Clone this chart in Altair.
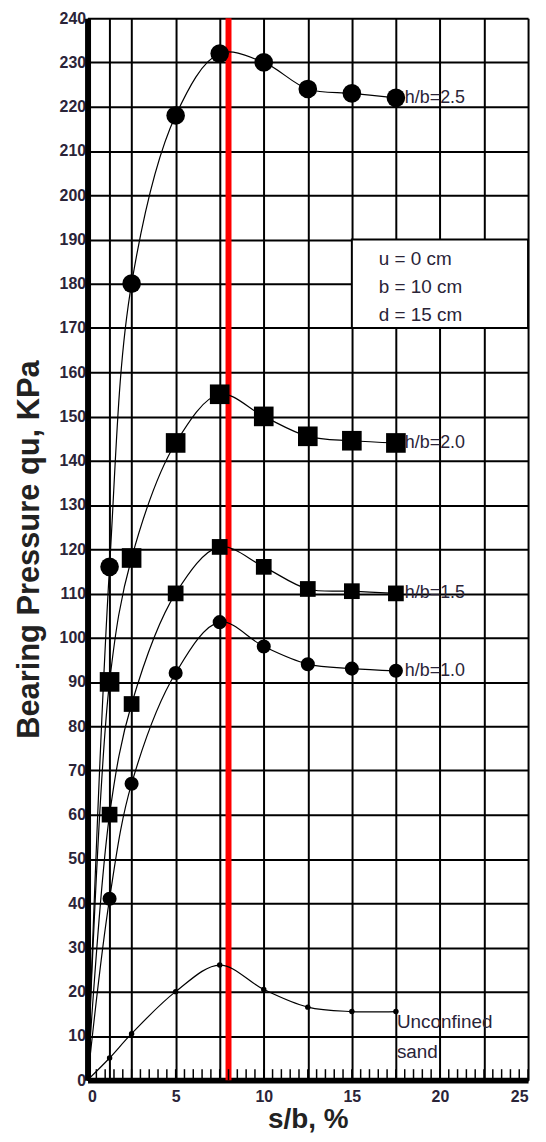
import altair as alt
import pandas as pd

# ---- data ----
s_b = [0, 1.25, 2.5, 5, 7.5, 10, 12.5, 15, 17.5]
hb_25 = [0, 116, 180, 218, 232, 230, 224, 223, 222]
hb_20 = [0, 90, 118, 144, 155, 150, 145.5, 144.5, 144]
hb_15 = [0, 60, 85, 110, 120.5, 116, 111, 110.5, 110]
hb_10 = [0, 41, 67, 92, 103.5, 98, 94, 93, 92.5]
unconfined = [0, 5, 10.5, 20, 26, 20.5, 16.5, 15.5, 15.5]
series_names = ["h/b=2.5", "h/b=2.0", "h/b=1.5", "h/b=1.0", "Unconfined"]
x_grid = [0, 1.25, 2.5, 5, 7.5, 10, 12.5, 15, 17.5, 20, 22.5, 25]
y_ticks = list(range(0, 241, 10))
critical_sb = [8]
note_lines = ["u = 0 cm", "b = 10 cm", "d = 15 cm"]
minor_ticks = [i * 0.5 for i in range(51)]

rows = []
for name, vals in zip(series_names, [hb_25, hb_20, hb_15, hb_10, unconfined]):
    for x, v in zip(s_b, vals):
        rows.append({"series": name, "sb": x, "q": v})
df = pd.DataFrame(rows)
last = df[df["sb"] == s_b[-1]]

LABEL_COLOR = "#2a2438"
FONT = "Liberation Sans"

xscale = alt.Scale(domain=[0, 25], nice=False, zero=False)
yscale = alt.Scale(domain=[0, 240], nice=False)

X = alt.X("sb:Q", scale=xscale,
          axis=alt.Axis(values=x_grid, title="s/b, %",
                        labelExpr="datum.value % 5 === 0 ? datum.label : ''",
                        grid=True, gridColor="black", gridWidth=2, gridOpacity=1,
                        domainColor="black", domainWidth=6, ticks=False,
                        labelFont=FONT, labelFontSize=16, labelFontWeight="bold",
                        labelColor=LABEL_COLOR, labelPadding=8,
                        titleFont=FONT, titleFontSize=28, titleFontWeight="bold",
                        titleColor="#222222", titlePadding=2))
Y = alt.Y("q:Q", scale=yscale,
          axis=alt.Axis(values=y_ticks, title="Bearing Pressure qu, KPa",
                        grid=True, gridColor="black", gridWidth=2, gridOpacity=1,
                        domainColor="black", domainWidth=6, ticks=False,
                        labelFont=FONT, labelFontSize=16, labelFontWeight="bold",
                        labelColor=LABEL_COLOR, labelPadding=2,
                        titleFont=FONT, titleFontSize=31, titleFontWeight="bold",
                        titleColor="#222222", titlePadding=14))

base = alt.Chart(df)

red = alt.Chart(pd.DataFrame({"sb": critical_sb})).mark_rule(
    color="#ff0000", strokeWidth=6).encode(x=X)

box = alt.Chart(pd.DataFrame({"sb": [15], "sb2": [25], "q": [170], "q2": [190]})).mark_rect(
    fill="white", stroke="black", strokeWidth=2).encode(
    x=X, x2="sb2:Q", y=Y, y2="q2:Q")

note_df = pd.DataFrame({"txt": note_lines, "sb": [15] * 3, "q": [185.6, 179.3, 173.0]})
notes = alt.Chart(note_df).mark_text(
    align="left", baseline="middle", dx=27, font=FONT, fontSize=19,
    color=LABEL_COLOR).encode(x=X, y=Y, text="txt:N")

lines = base.mark_line(interpolate="catmull-rom", color="black", strokeWidth=1.2).encode(
    x=X, y=Y, detail="series:N")

marker_styles = {
    "h/b=2.5": ("circle", 350),
    "h/b=2.0": ("square", 390),
    "h/b=1.5": ("square", 250),
    "h/b=1.0": ("circle", 200),
    "Unconfined": ("circle", 30),
}
point_layers = []
for name in series_names:
    shp, sz = marker_styles[name]
    point_layers.append(
        base.transform_filter(f"datum.sb > 0 && datum.series == '{name}'").mark_point(
            filled=True, color="black", opacity=1, shape=shp, size=sz).encode(x=X, y=Y))

hb_labels = alt.Chart(last[last["series"] != "Unconfined"]).mark_text(
    align="left", baseline="middle", dx=9, font=FONT, fontSize=18,
    color=LABEL_COLOR).encode(x=X, y=Y, text="series:N")

unc_df = pd.DataFrame({"sb": [s_b[-1]], "q": [unconfined[-1]], "txt": ["Unconfined\nsand"]})
unc_label = alt.Chart(unc_df).mark_text(
    align="left", baseline="middle", dx=1, dy=11, lineBreak="\n", lineHeight=30,
    font=FONT, fontSize=19, color=LABEL_COLOR).encode(x=X, y=Y, text="txt:N")

ticks = alt.Chart(pd.DataFrame({"sb": minor_ticks})).mark_rule(
    color="black", strokeWidth=1.5).encode(x=X, y=alt.value(1068), y2=alt.value(1057))

chart = alt.layer(red, box, notes, lines, *point_layers, hb_labels, unc_label, ticks).properties(
    width=443, height=1068,
    autosize=alt.AutoSizeParams(type="none"),
    padding={"left": 80, "top": 7, "right": 10, "bottom": 58},
).configure_view(stroke=None)

chart.save("out.html", embed_options={"renderer": "svg", "actions": False})
